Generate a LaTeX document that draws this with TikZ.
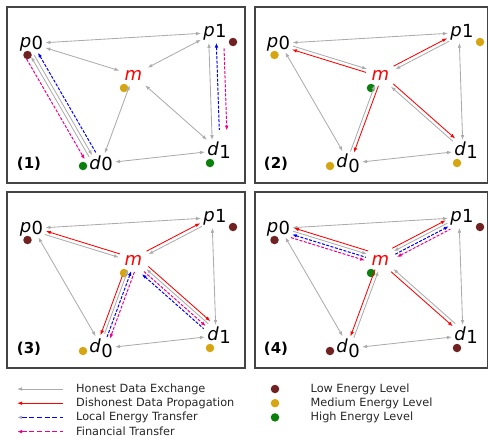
\documentclass[tikz,border=0pt]{standalone}
\usepackage{fontspec}
\setmainfont{DejaVu Sans}
\usetikzlibrary{arrows.meta, positioning, calc}

\definecolor{honest}{RGB}{172,172,172}
\definecolor{lowE}{RGB}{112,34,34}
\definecolor{medE}{RGB}{214,166,18}
\definecolor{highE}{RGB}{12,128,12}
\definecolor{framec}{RGB}{68,68,68}
\definecolor{keyhead}{RGB}{165,165,205}

% arrow from node #2 to node #3, moved sideways by #4
\newcommand{\link}[4][]{%
  \draw[#1, transform canvas={shift={($(#2)!#4!90:(#3)-(#2)$)}}] (#2) -- (#3);}

% agent labels and energy dots of one panel
% #1 panel number, #2 label of d0, #3--#7 dot colours of p0, p1, m, d0, d1
\newcommand{\agents}[7]{%
  \node[plabel] (num) at (29,164) {(#1)};
  \node[lbl] (p0) at (31.5,43.5) {\textit{p}\kern0.5pt\raisebox{-2.5pt}{0}};
  \node[lbl] (p1) at (215,32.5) {\textit{p}\kern0.5pt\raisebox{-1pt}{1}};
  \node[lbl, text=red, inner sep=5pt] (m) at (133.5,75) {\textit{m}};
  \node[lbl] (d0) at (101,163.5) {#2};
  \node[lbl] (d1) at (219,150.5) {\textit{d}\kern0.5pt\raisebox{-3pt}{1}};
  \node[edot, fill=#3] (p0e) at (27.5,55) {};
  \node[edot, fill=#4] (p1e) at (233,42) {};
  \node[edot, fill=#5] (me) at (124,88) {};
  \node[edot, fill=#6] (d0e) at (83,166) {};
  \node[edot, fill=#7] (d1e) at (210,163) {};
}

\begin{document}
\begin{tikzpicture}[
    x=1pt, y=-1pt,
    >={Latex[length=5pt,width=3.6pt]},
    lbl/.style={inner sep=2pt, font=\fontsize{18}{18}\selectfont},
    plabel/.style={font=\bfseries\fontsize{15}{15}\selectfont},
    edot/.style={circle, inner sep=0pt, minimum size=8.5pt},
    honestline/.style={draw=honest, line width=0.85pt},
    dishonest/.style={draw=red, line width=0.85pt},
    energy/.style={draw=blue, line width=1pt, dash pattern=on 3pt off 1.5pt},
    money/.style={draw=magenta, line width=1pt, dash pattern=on 3pt off 1.5pt},
    keyhonest/.style={honestline, <-},
    keydishonest/.style={dishonest, <-},
    keyenergy/.style={draw=blue, line width=1.3pt, dash pattern=on 5pt off 2.7pt,
                      {Latex[length=5pt,width=3.6pt,color=keyhead]}-},
    keymoney/.style={draw=magenta, line width=1.3pt, dash pattern=on 5pt off 2.7pt, <-},
    keytext/.style={anchor=west, inner sep=0pt, text=black!85,
                    font=\fontsize{11.3}{12}\selectfont},
    panel/.style={draw=framec, line width=1.1pt}
  ]
  \useasboundingbox (0,0) rectangle (488,439);

  \draw[panel] (7,7) rectangle (245,183);
  \draw[panel] (255,7) rectangle (487.4,183);
  \draw[panel] (7,192) rectangle (245,368);
  \draw[panel] (255,192) rectangle (487.4,368);

  % (1) prosumer to consumer trades
  \begin{scope}[name prefix=A-]
    \agents{1}{\textit{d}\kern0.5pt\raisebox{-1.5pt}{0}}{lowE}{lowE}{medE}{highE}{highE}
    \draw[honestline, <->] (p0) -- (p1);
    \draw[honestline, <->] (p0) -- (m);
    \draw[honestline, <->] (m) -- (p1);
    \draw[honestline, <->] (m) -- (d0);
    \draw[honestline, <->] (m) -- (d1);
    \draw[honestline, <->] (d0) -- (d1);
    \link[honestline, <->]{p1}{d1}{-6.5pt}
    \link[energy, <-, shorten >=10pt]{p1}{d1}{1pt}
    \link[money, ->, shorten <=6pt, shorten >=9pt]{p1}{d1}{8.5pt}
    \link[money, ->]{p0}{d0}{-12pt}
    \link[honestline, <-]{p0}{d0}{-7pt}
    \link[honestline, ->]{p0}{d0}{-3.5pt}
    \link[energy, <-]{p0}{d0}{1pt}
  \end{scope}

  % (2) dishonest middleman
  \begin{scope}[shift={(247,0)}, name prefix=B-]
    \agents{2}{\textit{d}\kern0.5pt\raisebox{-4.5pt}{0}}{medE}{medE}{highE}{medE}{medE}
    \draw[honestline, <->] (p0) -- (p1);
    \draw[honestline, <->] (d0) -- (d1);
    \link[honestline, <->]{p0}{d0}{1.5pt}
    \link[honestline, <->]{p1}{d1}{-3pt}
    \link[honestline, ->]{p0}{m}{1.8pt}
    \link[dishonest, <-]{p0}{m}{-1.8pt}
    \link[dishonest, ->]{m}{p1}{1.8pt}
    \link[honestline, <-]{m}{p1}{-1.8pt}
    \link[dishonest, ->]{m}{d0}{1.8pt}
    \link[honestline, <-]{m}{d0}{-1.8pt}
    \link[dishonest, ->]{m}{d1}{1.8pt}
    \link[honestline, <-]{m}{d1}{-1.8pt}
  \end{scope}

  % (3) middleman supplies the consumers
  \begin{scope}[shift={(0,185)}, name prefix=C-]
    \agents{3}{\textit{d}\kern0.5pt\raisebox{-4.5pt}{0}}{lowE}{lowE}{medE}{medE}{medE}
    \draw[honestline, <->] (p0) -- (p1);
    \draw[honestline, <->] (d0) -- (d1);
    \link[honestline, <->]{p0}{d0}{1.5pt}
    \link[honestline, <->]{p1}{d1}{-3pt}
    \link[dishonest, <-]{p0}{m}{1.8pt}
    \link[honestline, ->]{p0}{m}{-1.8pt}
    \link[dishonest, ->]{m}{p1}{1.8pt}
    \link[honestline, <-]{m}{p1}{-1.8pt}
    \link[dishonest, ->, shorten <=8pt]{m}{d0}{-5pt}
    \link[honestline, <-, shorten >=3pt]{m}{d0}{-1.7pt}
    \link[energy, <-]{m}{d0}{1.7pt}
    \link[money, ->]{m}{d0}{5pt}
    \link[dishonest, ->]{m}{d1}{5pt}
    \link[honestline, <-]{m}{d1}{1.7pt}
    \link[money, ->]{m}{d1}{-1.7pt}
    \link[energy, <-]{m}{d1}{-5pt}
  \end{scope}

  % (4) middleman supplies the prosumers
  \begin{scope}[shift={(247,185)}, name prefix=D-]
    \agents{4}{\textit{d}\kern0.5pt\raisebox{-4.5pt}{0}}{lowE}{lowE}{highE}{lowE}{lowE}
    \draw[honestline, <->] (p0) -- (p1);
    \draw[honestline, <->] (d0) -- (d1);
    \link[honestline, <->]{p0}{d0}{1.5pt}
    \link[honestline, <->]{p1}{d1}{-3pt}
    \link[dishonest, <-]{p0}{m}{5pt}
    \link[honestline, ->]{p0}{m}{1.7pt}
    \link[energy, <-]{p0}{m}{-1.7pt}
    \link[money, ->]{p0}{m}{-5pt}
    \link[dishonest, ->]{m}{p1}{5pt}
    \link[honestline, <-]{m}{p1}{1.7pt}
    \link[energy, ->]{m}{p1}{-1.7pt}
    \link[money, <-]{m}{p1}{-5pt}
    \link[dishonest, ->]{m}{d0}{-1.8pt}
    \link[honestline, <-]{m}{d0}{1.8pt}
    \link[honestline, <-]{m}{d1}{1.8pt}
    \link[dishonest, ->]{m}{d1}{-1.8pt}
  \end{scope}

  % legend
  \foreach \sty/\txt [count=\i] in {keyhonest/Honest Data Exchange,
      keydishonest/Dishonest Data Propagation,
      keyenergy/Local Energy Transfer, keymoney/Financial Transfer} {
    \node[keytext] (key\i) at (76,374.8+14.2*\i) {\txt};
    \draw[\sty] ($(key\i.west)+(-59,0)$) -- ($(key\i.west)+(-13,0)$);
  }
  \foreach \col/\txt [count=\i] in {lowE/Low Energy Level,
      medE/Medium Energy Level, highE/High Energy Level} {
    \node[edot, fill=\col] (lvl\i) at (275,374.8+14.2*\i) {};
    \node[keytext, right=31pt of lvl\i] (lvltext\i) {\txt};
  }
\end{tikzpicture}
\end{document}
